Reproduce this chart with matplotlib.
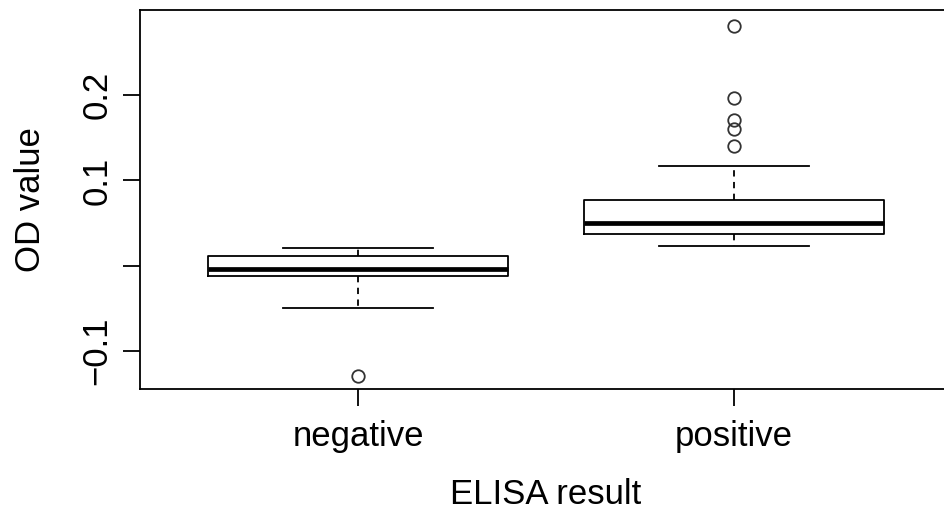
import matplotlib
matplotlib.use("Agg")
import matplotlib.pyplot as plt

categories = ["negative", "positive"]
whislo = [-0.0496, 0.0226]
q1 = [-0.0117, 0.0372]
medians = [-0.0039, 0.0500]
q3 = [0.0117, 0.0770]
whishi = [0.0211, 0.1172]
fliers = [[-0.129], [0.281, 0.1966, 0.1708, 0.160, 0.1407]]
yticks = [-0.1, 0.0, 0.1, 0.2]
ytick_labels = ["\u22120.1", "", "0.1", "0.2"]

plt.rcParams['font.family'] = ['Liberation Sans', 'DejaVu Sans']

W, H = 945, 512
fig = plt.figure(figsize=(W / 100, H / 100), dpi=100)
left, right, top, bottom = 140, 952, 10, 389
ax = fig.add_axes([left / W, (H - bottom) / H, (right - left) / W, (bottom - top) / H])

stats = []
for i, c in enumerate(categories):
    stats.append(dict(label=c, whislo=whislo[i], q1=q1[i], med=medians[i],
                      q3=q3[i], whishi=whishi[i], fliers=fliers[i]))

ax.bxp(stats, positions=[1, 2], widths=0.8, showfliers=True,
       boxprops=dict(color='black', linewidth=1.3),
       medianprops=dict(color='black', linewidth=3.4, solid_capstyle='butt'),
       whiskerprops=dict(color='black', linewidth=1.3, linestyle=(0, (3.5, 3))),
       capprops=dict(color='black', linewidth=1.3),
       capwidths=0.4,
       flierprops=dict(marker='o', markerfacecolor='none', markeredgecolor='#333333',
                       markersize=9, markeredgewidth=1.3))

ax.set_xlim(0.42, 2.58)
ax.set_ylim(-0.1445, 0.2997)
ax.set_xticks([1, 2])
ax.set_xticklabels(categories, fontsize=25)
ax.set_yticks(yticks)
ax.set_yticklabels(ytick_labels, fontsize=25, rotation=90, va='center')
ax.tick_params(axis='both', length=12, width=1.3, color='black')
ax.tick_params(axis='y', pad=7)
ax.tick_params(axis='x', pad=10)
for s in ax.spines.values():
    s.set_linewidth(1.3)

ax.set_xlabel("ELISA result", fontsize=25, labelpad=18.5)
ax.set_ylabel("OD value", fontsize=25, labelpad=24)

fig.savefig("out.png", dpi=100)
